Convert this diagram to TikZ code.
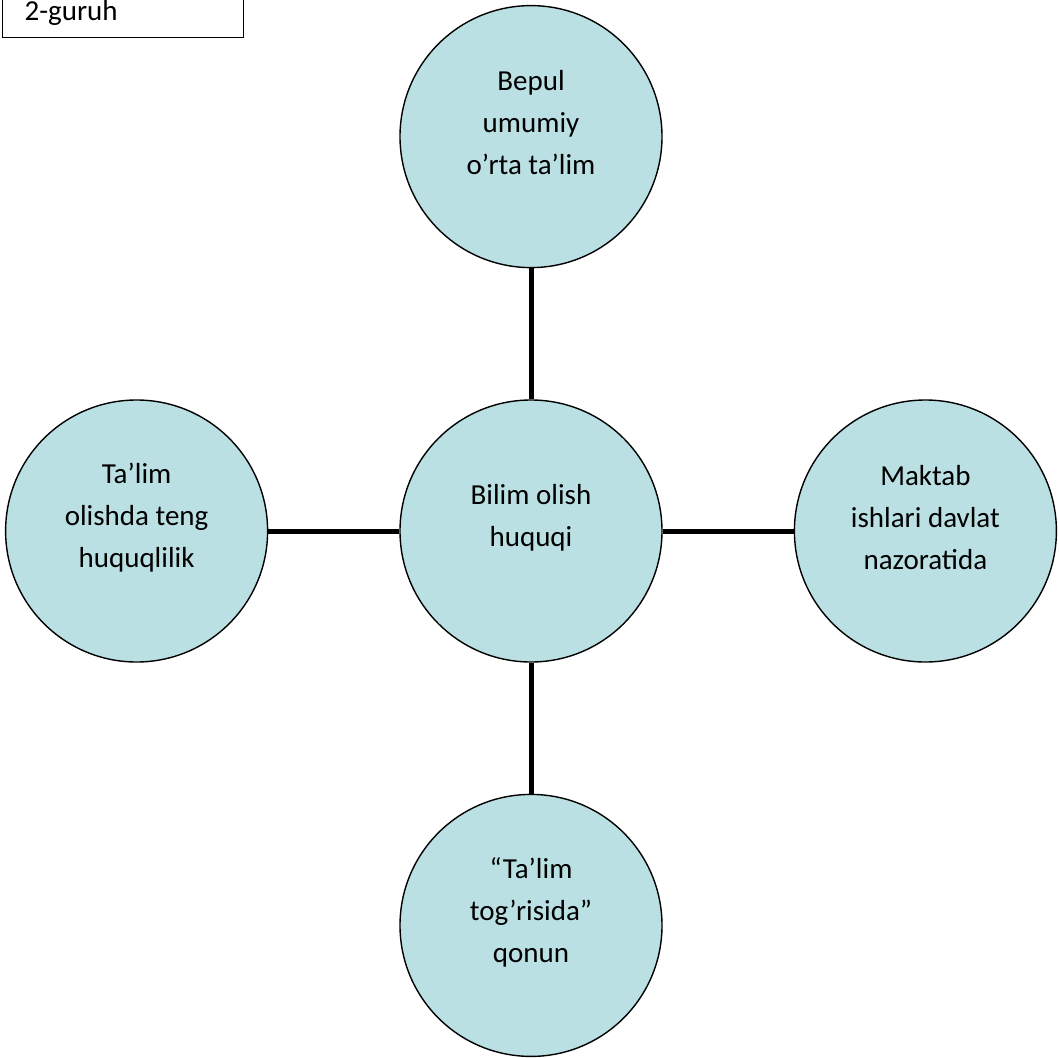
\documentclass[tikz,border=0pt]{standalone}
\usepackage{fontspec}
\setmainfont{Carlito}
\usepackage{tikz}
\usetikzlibrary{positioning}
\definecolor{LiteAqua}{RGB}{186, 224, 227}
\definecolor{RichBlack}{RGB}{0, 0, 0}
\tikzset{%
  bubble/.style={%
    circle,%
    minimum size=262pt,%
    inner sep=0pt,%
    draw=RichBlack,%
    line width=1.4pt,%
    fill=LiteAqua,%
  },
  bubble_text/.style={%
    font={\fontsize{29}{42}\selectfont},%
    align=center,%
    inner sep=0pt,%
  },
  group_box/.style={%
    rectangle,%
    draw=RichBlack,%
    line width=1.2pt,%
    minimum height=48pt,%
    text width=197pt,%
    inner xsep=22pt,%
    inner ysep=0pt,%
    align=left,%
    font={\fontsize{29}{42}\selectfont},%
  },
  spoke/.style={%
    color=RichBlack,%
    line width=5pt,%
  },
}
\begin{document}
\begin{tikzpicture}[x=1pt, y=1pt]
    \useasboundingbox (0, 0) rectangle (1059, -1057);
    \clip (0, 0) rectangle (1059, -1057);

    \node [bubble] (Centre) at (531, -531) {};
    \node [bubble, above=131pt of Centre] (Top) {};
    \node [bubble, below=131pt of Centre] (Bottom) {};
    \node [bubble, left=131pt of Centre] (Left) {};
    \node [bubble, right=131pt of Centre] (Right) {};

    \node [bubble_text] (CentreText) at ([yshift=13pt]Centre.center)
      {Bilim olish\\huquqi};
    \node [bubble_text] (TopText) at ([yshift=14pt]Top.center)
      {Bepul\\umumiy\\o’rta ta’lim};
    \node [bubble_text] (BottomText) at ([yshift=13pt]Bottom.center)
      {“Ta’lim\\tog’risida”\\qonun};
    \node [bubble_text] (LeftText) at ([yshift=13pt]Left.center)
      {Ta’lim\\olishda teng\\huquqlilik};
    \node [bubble_text] (RightText) at ([yshift=13pt]Right.center)
      {Maktab\\ishlari davlat\\nazoratida};

    \node [group_box, anchor=south west] (Group) at (2, -38) {2-guruh};

    \draw [spoke] (Centre.north) -- (Top.south);
    \draw [spoke] (Centre.south) -- (Bottom.north);
    \draw [spoke] (Centre.west) -- (Left.east);
    \draw [spoke] (Centre.east) -- (Right.west);
  \end{tikzpicture}
\end{document}
